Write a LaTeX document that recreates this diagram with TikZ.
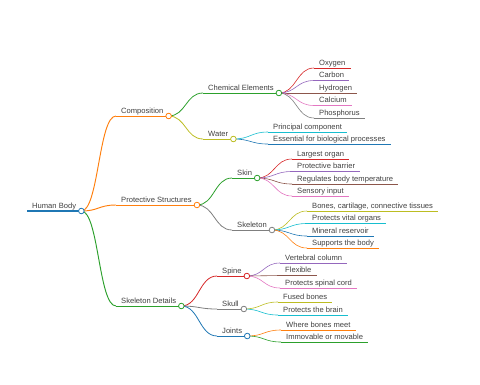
\documentclass[tikz,border=0pt]{standalone}
\usepackage{fontspec}
\setmainfont{Liberation Sans}
\usetikzlibrary{calc}
\definecolor{cblue}{HTML}{1F77B4}
\definecolor{corange}{HTML}{FF7F0E}
\definecolor{cgreen}{HTML}{2CA02C}
\definecolor{cred}{HTML}{D62728}
\definecolor{cpurple}{HTML}{9467BD}
\definecolor{cbrown}{HTML}{8C564B}
\definecolor{cpink}{HTML}{E377C2}
\definecolor{cgray}{HTML}{7F7F7F}
\definecolor{colive}{HTML}{BCBD22}
\definecolor{ccyan}{HTML}{17BECF}
\definecolor{txt}{HTML}{404040}
\tikzset{
  lbl/.style={anchor=south west, inner xsep=5pt, inner ysep=1pt, text height=5.6pt, text depth=1.6pt, font=\fontsize{7.6}{9}\selectfont, text=txt},
  link/.style={to path={let \p1=(\tikztostart), \p2=(\tikztotarget) in .. controls ({(\x1+\x2)/2},\y1) and ({(\x1+\x2)/2},\y2) .. (\tikztotarget)}},
  dot/.style={circle, draw, fill=white, inner sep=0pt, minimum size=5.6pt, line width=0.8pt},
  wa/.style={line width=1.3pt},
  wb/.style={line width=0.95pt},
  wc/.style={line width=0.8pt},
  wd/.style={line width=0.6pt},
}
\begin{document}
\begin{tikzpicture}[x=1pt,y=-1pt]
\useasboundingbox (0,0) rectangle (480,384);
% text nodes
\node[lbl] (hb) at (27,211) {Human Body};
\node[lbl] (comp) at (116,116) {Composition};
\node[lbl] (ps) at (116,205) {Protective Structures};
\node[lbl] (sd) at (116,306) {Skeleton Details};
\node[lbl] (chem) at (203,93) {Chemical Elements};
\node[lbl] (water) at (203,139) {Water};
\node[lbl] (skin) at (232,178) {Skin};
\node[lbl] (skel) at (232,230) {Skeleton};
\node[lbl] (spine) at (217,276) {Spine};
\node[lbl] (skull) at (217,309) {Skull};
\node[lbl] (joints) at (217,336) {Joints};
\node[lbl] (oxy) at (314,68) {Oxygen};
\node[lbl] (carb) at (314,80.5) {Carbon};
\node[lbl] (hyd) at (314,93) {Hydrogen};
\node[lbl] (calc) at (314,105.5) {Calcium};
\node[lbl] (phos) at (314,118) {Phosphorus};
\node[lbl] (pcomp) at (268,132) {Principal component};
\node[lbl] (ess) at (268,144) {Essential for biological processes};
\node[lbl] (lo) at (292,159) {Largest organ};
\node[lbl] (pb) at (292,171.5) {Protective barrier};
\node[lbl] (rbt) at (292,184) {Regulates body temperature};
\node[lbl] (si) at (292,196) {Sensory input};
\node[lbl] (bcc) at (307,211) {Bones, cartilage, connective tissues};
\node[lbl] (pvo) at (307,223.5) {Protects vital organs};
\node[lbl] (mr) at (307,236) {Mineral reservoir};
\node[lbl] (stb) at (307,248) {Supports the body};
\node[lbl] (vc) at (280,263) {Vertebral column};
\node[lbl] (flex) at (280,275.5) {Flexible};
\node[lbl] (psc) at (280,288) {Protects spinal cord};
\node[lbl] (fb) at (278,302) {Fused bones};
\node[lbl] (ptb) at (278,315) {Protects the brain};
\node[lbl] (wbm) at (281,330) {Where bones meet};
\node[lbl] (iom) at (281,342) {Immovable or movable};
% links
\draw[corange,wb] (hb.south east) to[link] (comp.south west);
\draw[corange,wb] (hb.south east) to[link] (ps.south west);
\draw[cgreen,wb] (hb.south east) to[link] (sd.south west);
\draw[cgreen,wc] (comp.south east) to[link] (chem.south west);
\draw[colive,wc] (comp.south east) to[link] (water.south west);
\draw[cgreen,wc] (ps.south east) to[link] (skin.south west);
\draw[cgray,wc] (ps.south east) to[link] (skel.south west);
\draw[cred,wc] (sd.south east) to[link] (spine.south west);
\draw[cgray,wc] (sd.south east) to[link] (skull.south west);
\draw[cblue,wc] (sd.south east) to[link] (joints.south west);
\draw[cred,wd] (chem.south east) to[link] (oxy.south west);
\draw[cpurple,wd] (chem.south east) to[link] (carb.south west);
\draw[cbrown,wd] (chem.south east) to[link] (hyd.south west);
\draw[cpink,wd] (chem.south east) to[link] (calc.south west);
\draw[cgray,wd] (chem.south east) to[link] (phos.south west);
\draw[ccyan,wd] (water.south east) to[link] (pcomp.south west);
\draw[cblue,wd] (water.south east) to[link] (ess.south west);
\draw[cred,wd] (skin.south east) to[link] (lo.south west);
\draw[cpurple,wd] (skin.south east) to[link] (pb.south west);
\draw[cbrown,wd] (skin.south east) to[link] (rbt.south west);
\draw[cpink,wd] (skin.south east) to[link] (si.south west);
\draw[colive,wd] (skel.south east) to[link] (bcc.south west);
\draw[ccyan,wd] (skel.south east) to[link] (pvo.south west);
\draw[cblue,wd] (skel.south east) to[link] (mr.south west);
\draw[corange,wd] (skel.south east) to[link] (stb.south west);
\draw[cpurple,wd] (spine.south east) to[link] (vc.south west);
\draw[cbrown,wd] (spine.south east) to[link] (flex.south west);
\draw[cpink,wd] (spine.south east) to[link] (psc.south west);
\draw[colive,wd] (skull.south east) to[link] (fb.south west);
\draw[ccyan,wd] (skull.south east) to[link] (ptb.south west);
\draw[corange,wd] (joints.south east) to[link] (wbm.south west);
\draw[cgreen,wd] (joints.south east) to[link] (iom.south west);
% underlines
\draw[cblue,wa] (hb.south west) -- (hb.south east);
\draw[corange,wb] (comp.south west) -- (comp.south east);
\draw[corange,wb] (ps.south west) -- (ps.south east);
\draw[cgreen,wb] (sd.south west) -- (sd.south east);
\draw[cgreen,wc] (chem.south west) -- (chem.south east);
\draw[colive,wc] (water.south west) -- (water.south east);
\draw[cgreen,wc] (skin.south west) -- (skin.south east);
\draw[cgray,wc] (skel.south west) -- (skel.south east);
\draw[cred,wc] (spine.south west) -- (spine.south east);
\draw[cgray,wc] (skull.south west) -- (skull.south east);
\draw[cblue,wc] (joints.south west) -- (joints.south east);
\draw[cred,wd] (oxy.south west) -- (oxy.south east);
\draw[cpurple,wd] (carb.south west) -- (carb.south east);
\draw[cbrown,wd] (hyd.south west) -- (hyd.south east);
\draw[cpink,wd] (calc.south west) -- (calc.south east);
\draw[cgray,wd] (phos.south west) -- (phos.south east);
\draw[ccyan,wd] (pcomp.south west) -- (pcomp.south east);
\draw[cblue,wd] (ess.south west) -- (ess.south east);
\draw[cred,wd] (lo.south west) -- (lo.south east);
\draw[cpurple,wd] (pb.south west) -- (pb.south east);
\draw[cbrown,wd] (rbt.south west) -- (rbt.south east);
\draw[cpink,wd] (si.south west) -- (si.south east);
\draw[colive,wd] (bcc.south west) -- (bcc.south east);
\draw[ccyan,wd] (pvo.south west) -- (pvo.south east);
\draw[cblue,wd] (mr.south west) -- (mr.south east);
\draw[corange,wd] (stb.south west) -- (stb.south east);
\draw[cpurple,wd] (vc.south west) -- (vc.south east);
\draw[cbrown,wd] (flex.south west) -- (flex.south east);
\draw[cpink,wd] (psc.south west) -- (psc.south east);
\draw[colive,wd] (fb.south west) -- (fb.south east);
\draw[ccyan,wd] (ptb.south west) -- (ptb.south east);
\draw[corange,wd] (wbm.south west) -- (wbm.south east);
\draw[cgreen,wd] (iom.south west) -- (iom.south east);
% circles
\node[dot,draw=cblue] (hbc) at (hb.south east) {};
\node[dot,draw=corange] (compc) at (comp.south east) {};
\node[dot,draw=corange] (psc0) at (ps.south east) {};
\node[dot,draw=cgreen] (sdc) at (sd.south east) {};
\node[dot,draw=cgreen] (chemc) at (chem.south east) {};
\node[dot,draw=colive] (waterc) at (water.south east) {};
\node[dot,draw=cgreen] (skinc) at (skin.south east) {};
\node[dot,draw=cgray] (skelc) at (skel.south east) {};
\node[dot,draw=cred] (spinec) at (spine.south east) {};
\node[dot,draw=cgray] (skullc) at (skull.south east) {};
\node[dot,draw=cblue] (jointsc) at (joints.south east) {};
\end{tikzpicture}
\end{document}
